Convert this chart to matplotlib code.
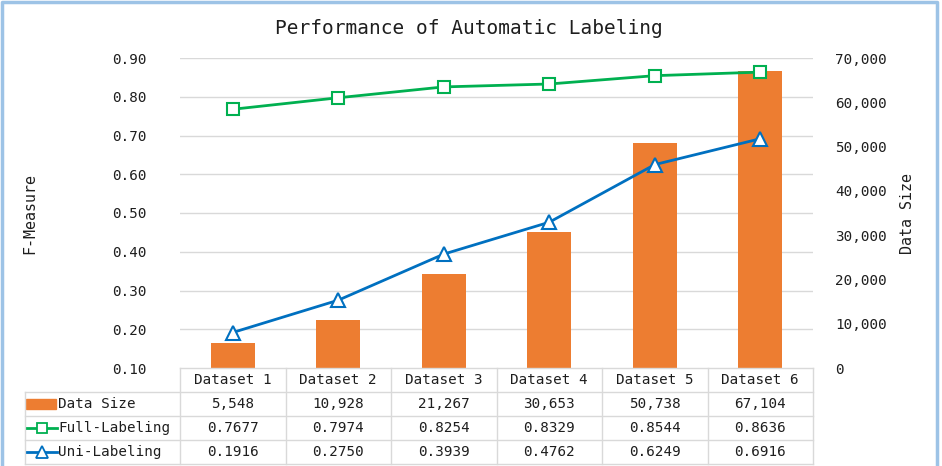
import matplotlib
matplotlib.use("Agg")
import matplotlib.pyplot as plt
from matplotlib.patches import Rectangle
from matplotlib.ticker import FuncFormatter, MultipleLocator

categories = ["Dataset 1", "Dataset 2", "Dataset 3", "Dataset 4", "Dataset 5", "Dataset 6"]
data_size = [5548, 10928, 21267, 30653, 50738, 67104]
full_labeling = [0.7677, 0.7974, 0.8254, 0.8329, 0.8544, 0.8636]
uni_labeling = [0.1916, 0.2750, 0.3939, 0.4762, 0.6249, 0.6916]
series_names = ["Data Size", "Full-Labeling", "Uni-Labeling"]

ORANGE = "#ED7D31"
GREEN = "#00B050"
BLUE = "#0070C0"
GRID = "#D9D9D9"
TXT = "#1E1E1E"
FONT = "DejaVu Sans Mono"
FS = 10.3

W, H = 942, 466
fig = plt.figure(figsize=(W / 100, H / 100), dpi=100)

L, R, T, B = 180, 813, 58, 368
rect = [L / W, 1 - B / H, (R - L) / W, (B - T) / H]

# grid axes (F-measure scale), drawn beneath bars
axg = fig.add_axes(rect)
axg.set_xlim(-0.5, len(categories) - 0.5)
axg.set_ylim(0.10, 0.90)
axg.axis("off")
for k in range(2, 10):
    axg.axhline(k / 10, color=GRID, lw=1)

ax = fig.add_axes(rect)
ax.patch.set_alpha(0)
x = list(range(len(categories)))
ax.bar(x, data_size, width=0.42, color=ORANGE, zorder=2)
ax.set_xlim(-0.5, len(categories) - 0.5)
ax.set_ylim(0, 70000)
ax.set_xticks([])
for s in ax.spines.values():
    s.set_visible(False)

ax2 = ax.twinx()
ax2.plot(x, full_labeling, color=GREEN, lw=2.0, marker="s", ms=9,
         mfc="white", mec=GREEN, mew=1.5, zorder=3)
ax2.plot(x, uni_labeling, color=BLUE, lw=2.0, marker="^", ms=10,
         mfc="white", mec=BLUE, mew=1.5, zorder=3)
ax2.set_ylim(0.10, 0.90)
for s in ax2.spines.values():
    s.set_visible(False)

# right axis: data size (ax), left axis: F-measure (ax2)
ax.yaxis.set_major_locator(MultipleLocator(10000))
ax.yaxis.set_major_formatter(FuncFormatter(lambda v, p: f"{int(v):,}"))
ax.tick_params(axis="y", left=False, right=False, labelleft=False, labelright=True,
               length=0, pad=16, labelsize=FS, labelcolor=TXT)
for lab in ax.get_yticklabels():
    lab.set_fontfamily(FONT)

ax2.yaxis.set_major_locator(MultipleLocator(0.10))
ax2.yaxis.set_major_formatter(FuncFormatter(lambda v, p: f"{v:.2f}"))
ax2.tick_params(axis="y", left=False, right=False, labelleft=True, labelright=False,
                length=0, pad=24, labelsize=FS, labelcolor=TXT)
for lab in ax2.get_yticklabels():
    lab.set_fontfamily(FONT)

fig.text(469 / W, 1 - 28 / H, "Performance of Automatic Labeling", ha="center", va="center",
         fontsize=14, fontfamily=FONT, color=TXT)
fig.text(30 / W, 1 - 213 / H, "F-Measure", rotation=90, ha="center", va="center",
         fontsize=FS + 0.5, fontfamily=FONT, color=TXT)
fig.text(908 / W, 1 - 213 / H, "Data Size", rotation=90, ha="center", va="center",
         fontsize=FS + 0.5, fontfamily=FONT, color=TXT)

# data table in pixel coordinates
ncol = len(categories)
cw = (R - L) / ncol
rows_y = [368, 392, 416, 440, 464]
LBL_L = 25
tab_color = "#D9D9D9"
ov2 = fig.add_axes([0, 0, 1, 1])
ov2.set_xlim(0, W)
ov2.set_ylim(H, 0)
ov2.axis("off")
ov2.patch.set_alpha(0)
ov2.plot([L, R], [rows_y[0], rows_y[0]], color=tab_color, lw=1)
for yy in rows_y[1:]:
    ov2.plot([LBL_L, R], [yy, yy], color=tab_color, lw=1)
for i in range(ncol + 1):
    xx = L + i * cw
    ov2.plot([xx, xx], [rows_y[0], rows_y[-1]], color=tab_color, lw=1)
ov2.plot([LBL_L, LBL_L], [rows_y[1], rows_y[-1]], color=tab_color, lw=1)

for i, c in enumerate(categories):
    ov2.text(L + (i + 0.5) * cw, (rows_y[0] + rows_y[1]) / 2, c, ha="center", va="center",
             fontsize=FS, fontfamily=FONT, color=TXT)
row_vals = [
    [f"{v:,}" for v in data_size],
    [f"{v:.4f}" for v in full_labeling],
    [f"{v:.4f}" for v in uni_labeling],
]
for r, vals in enumerate(row_vals):
    yc = (rows_y[r + 1] + rows_y[r + 2]) / 2
    for i, s in enumerate(vals):
        ov2.text(L + (i + 0.5) * cw, yc, s, ha="center", va="center",
                 fontsize=FS, fontfamily=FONT, color=TXT)
    ov2.text(58, yc, series_names[r], ha="left", va="center",
             fontsize=FS, fontfamily=FONT, color=TXT)

# legend keys
yc0 = (rows_y[1] + rows_y[2]) / 2
ov2.add_patch(Rectangle((26, yc0 - 5), 30, 10, color=ORANGE))
yc1 = (rows_y[2] + rows_y[3]) / 2
ov2.plot([27, 57], [yc1, yc1], color=GREEN, lw=2)
ov2.plot([42], [yc1], marker="s", ms=7, mfc="white", mec=GREEN, mew=1.3)
yc2 = (rows_y[3] + rows_y[4]) / 2
ov2.plot([27, 57], [yc2, yc2], color=BLUE, lw=2)
ov2.plot([42], [yc2], marker="^", ms=8, mfc="white", mec=BLUE, mew=1.3)

# outer border
ov2.plot([2, 2, 937, 937], [H, 1.5, 1.5, H], color="#9DC3E6", lw=2.5)

fig.savefig("out.png", dpi=100)
